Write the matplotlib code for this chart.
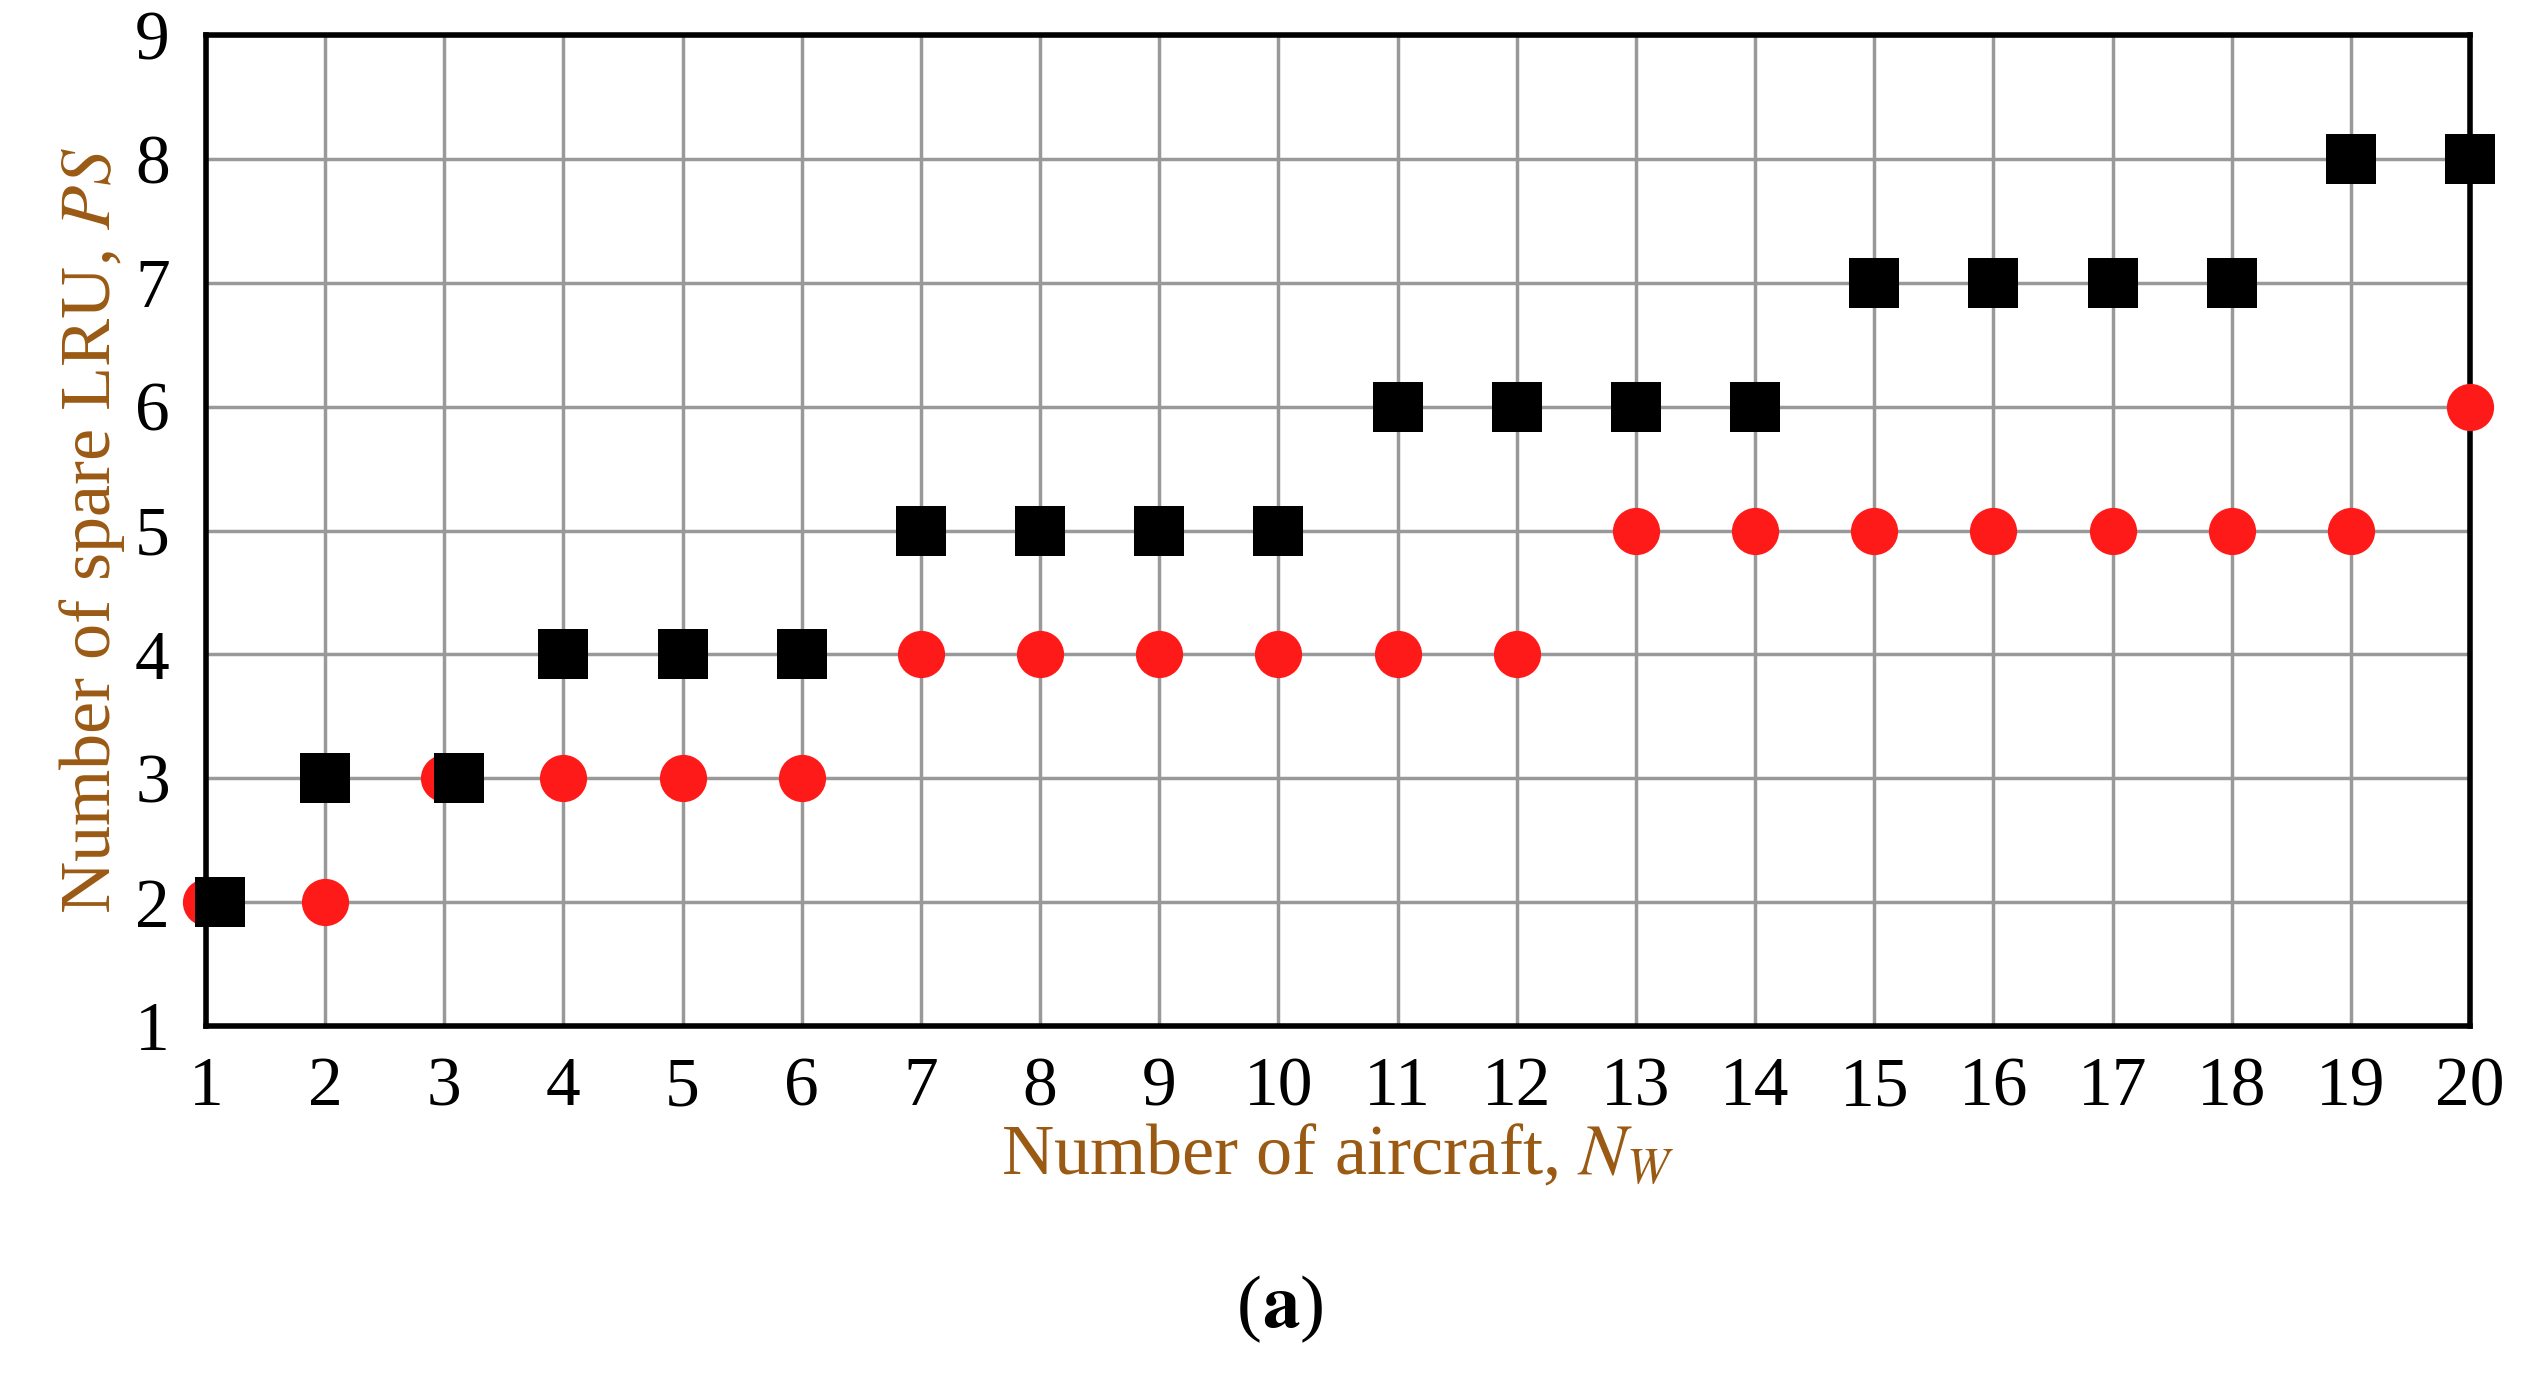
import matplotlib.pyplot as plt

aircraft = list(range(1, 21))
spare_black = [2, 3, 3, 4, 4, 4, 5, 5, 5, 5, 6, 6, 6, 6, 7, 7, 7, 7, 8, 8]
spare_red = [2, 2, 3, 3, 3, 3, 4, 4, 4, 4, 4, 4, 5, 5, 5, 5, 5, 5, 5, 6]
# small horizontal nudges where the two series overlap in the original
black_shift = {1: 0.12, 3: 0.12}

plt.rcParams['font.family'] = ['Liberation Serif', 'DejaVu Serif']
plt.rcParams['mathtext.fontset'] = 'stix'
fig = plt.figure(figsize=(25.24, 14.0), dpi=100)
ax = fig.add_axes([0.0816, 0.267, 0.897, 0.708])

ax.plot(aircraft, spare_red, 'o', color='#ff1a1a', markersize=34, markeredgewidth=0,
        clip_on=False, zorder=3)
bx = [x + black_shift.get(x, 0) for x in aircraft]
ax.plot(bx, spare_black, 's', color='black', markersize=36, markeredgewidth=0,
        clip_on=False, zorder=4)

ax.set_xlim(1, 20)
ax.set_ylim(1, 9)
ax.set_xticks(aircraft)
ax.set_yticks(range(1, 10))
ax.grid(True, color='#999999', linewidth=2.5)
ax.set_axisbelow(True)
for s in ax.spines.values():
    s.set_linewidth(4)
ax.tick_params(length=0, labelsize=50, pad=22)
ax.tick_params(axis='y', pad=26)

ax.set_xlabel('Number of aircraft, $N_W$', fontsize=52, color='#9a5a14', labelpad=2)
ax.set_ylabel('Number of spare LRU, $PS$', fontsize=52, color='#9a5a14', labelpad=6)
fig.text(0.5, 0.065, '(', ha='right', va='center', fontsize=54)
fig.text(0.5, 0.065, '(a)', ha='center', va='center', fontsize=54, color='none')
fig.text(0.5, 0.065, r'$\mathbf{a}$)', ha='left', va='center', fontsize=54)

fig.savefig('out.png', dpi=100)
